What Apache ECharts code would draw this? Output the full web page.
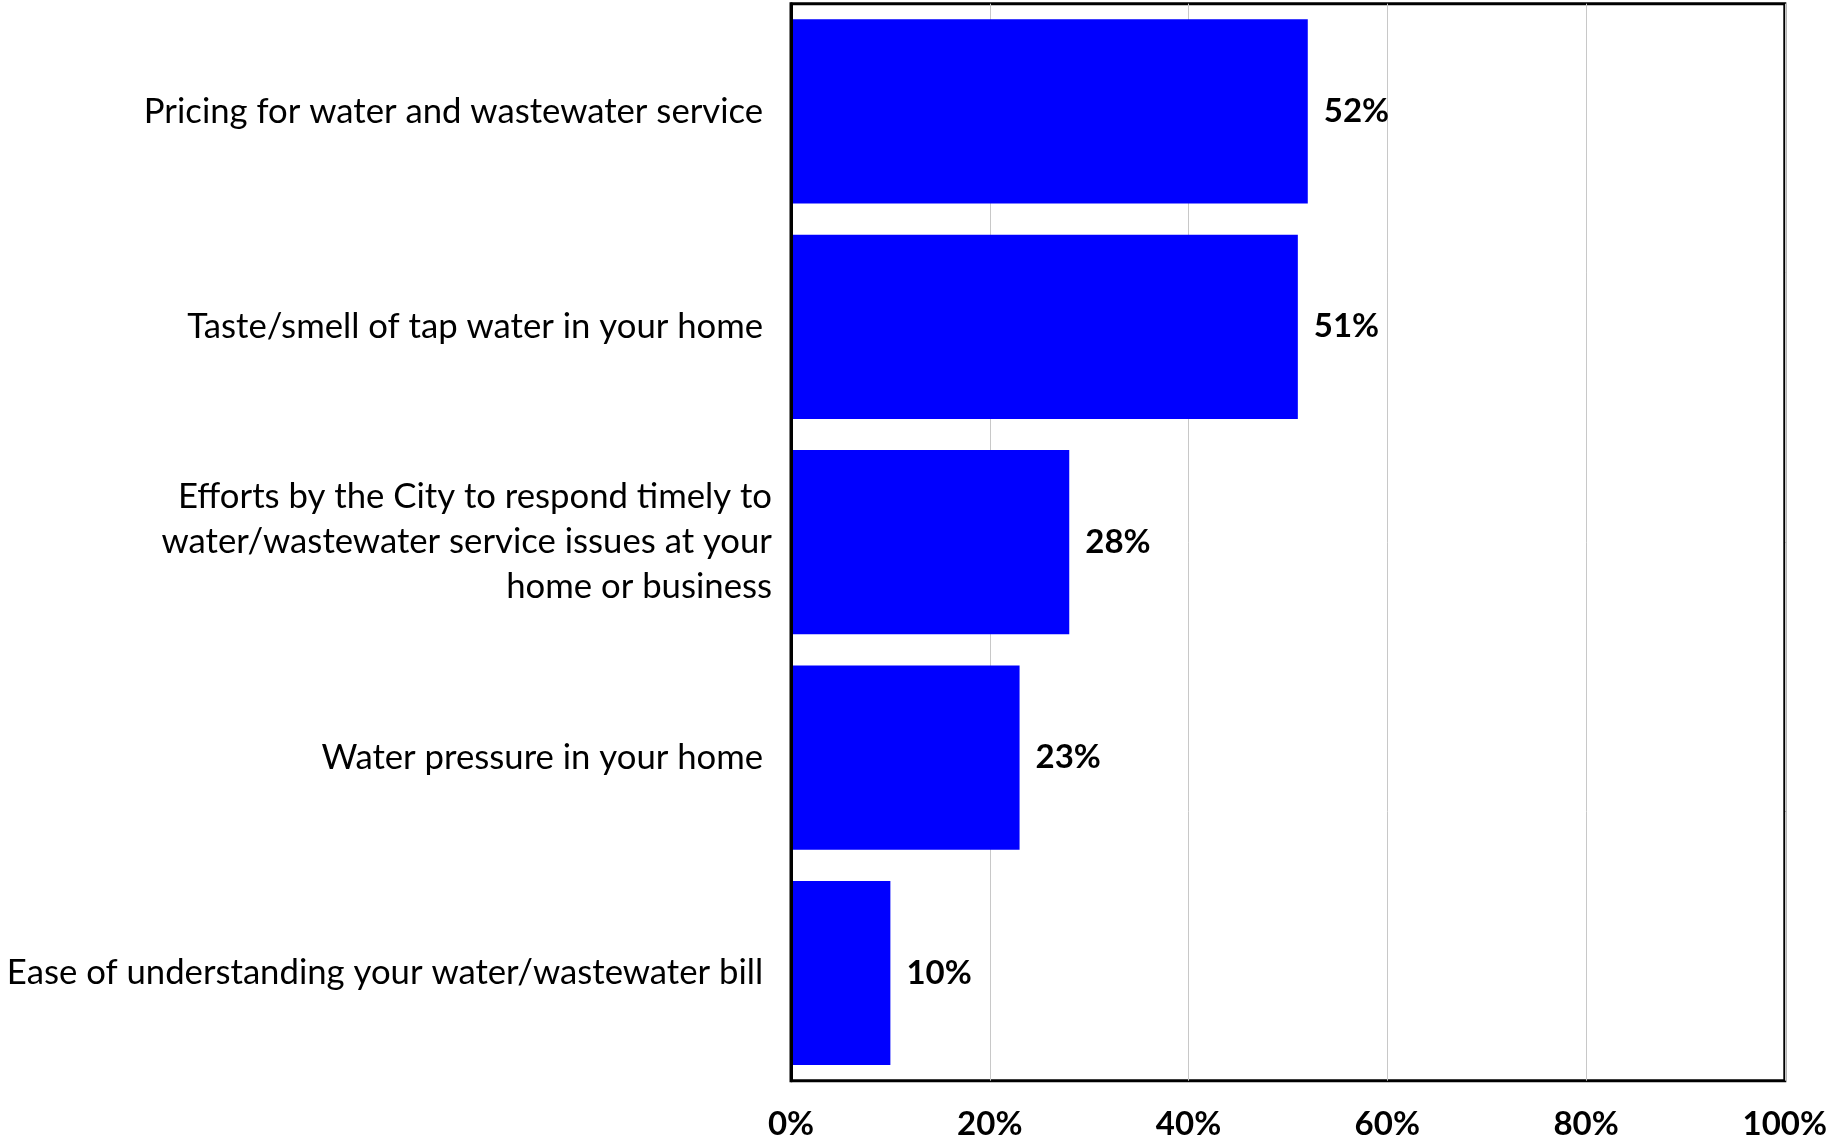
<!DOCTYPE html>
<html>
<head>
<meta charset="utf-8">
<script src="https://cdn.jsdelivr.net/npm/echarts@6/dist/echarts.min.js"></script>
<style>
  html, body { margin: 0; padding: 0; background: #fff; }
  #chart { width: 1829px; height: 1135px; }
</style>
</head>
<body>
<div id="chart"></div>
<script>
// Survey items, top to bottom
const categories = [
  'Pricing for water and wastewater service ',
  'Taste/smell of tap water in your home ',
  'Efforts by the City to respond timely to\nwater/wastewater service issues at your\nhome or business',
  'Water pressure in your home ',
  'Ease of understanding your water/wastewater bill '
];
// Share of respondents (%)
const values = [52, 51, 28, 23, 10];
// Value axis ticks (%)
const axisTicks = [0, 20, 40, 60, 80, 100];

const chart = echarts.init(document.getElementById('chart'));
const fontFamily = 'Lato, "Open Sans", sans-serif';

chart.setOption({
  animation: false,
  grid: {
    left: 791, right: 44.2, top: 3.7, bottom: 54.3,
    show: true, borderColor: '#000', borderWidth: 3,
    containLabel: false,
    outerBoundsMode: 'none'
  },
  xAxis: {
    type: 'value',
    min: axisTicks[0],
    max: axisTicks[axisTicks.length - 1],
    interval: axisTicks[1] - axisTicks[0],
    axisLine: { show: false },
    axisTick: { show: false },
    splitLine: { show: true, lineStyle: { color: '#c8c8c8', width: 1 } },
    axisLabel: {
      formatter: v => v + '%',
      color: '#000', fontWeight: 'bold', fontSize: 33, fontFamily,
      margin: 27
    }
  },
  yAxis: {
    type: 'category',
    data: categories,
    inverse: true,
    z: 5,
    axisLine: { show: true, lineStyle: { color: '#000', width: 3 } },
    axisTick: { show: false },
    splitLine: { show: false },
    axisLabel: {
      color: '#000', fontSize: 34.7, fontFamily, lineHeight: 45,
      margin: 19, align: 'right', padding: [12, 0, 0, 0]
    }
  },
  series: [{
    type: 'bar',
    data: values,
    barCategoryGap: '14.5%',
    itemStyle: { color: '#0000ff' },
    label: {
      show: true, position: 'right', distance: 16,
      formatter: p => p.value + '%',
      color: '#000', fontWeight: 'bold', fontSize: 33, fontFamily,
      padding: [9, 0, 0, 0]
    }
  }]
});
</script>
</body>
</html>
